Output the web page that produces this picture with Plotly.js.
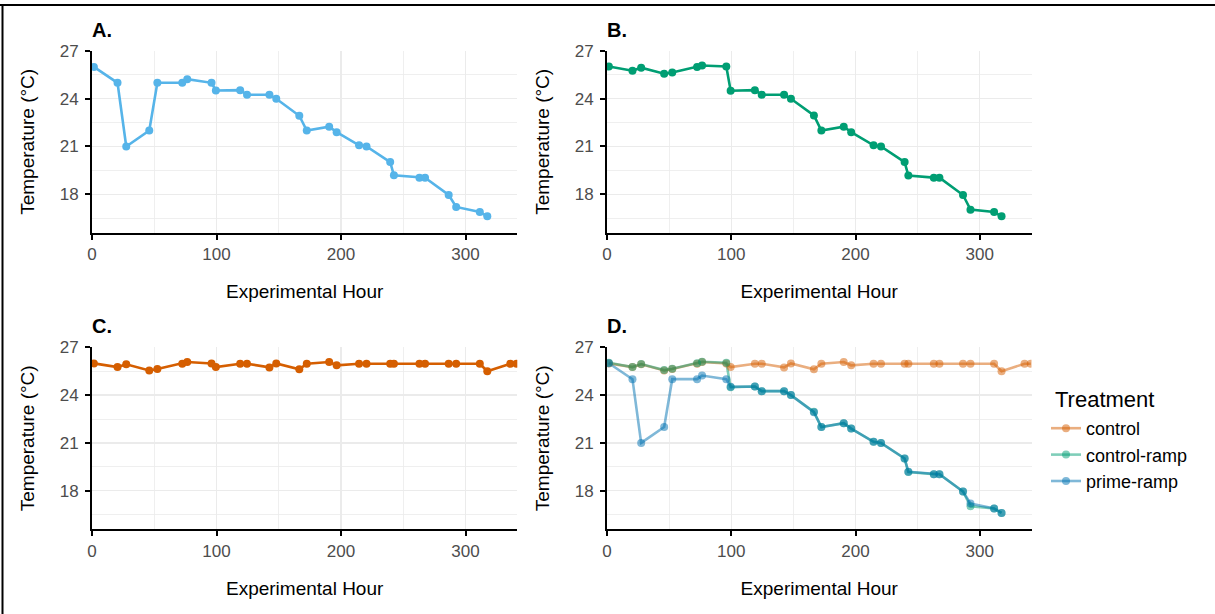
<!DOCTYPE html>
<html>
<head>
<meta charset="utf-8">
<script src="https://cdn.plot.ly/plotly-3.0.1.min.js"></script>
<style>
  html, body { margin: 0; padding: 0; background: #ffffff; }
  #chart { width: 1215px; height: 614px; }
</style>
</head>
<body>
<div id="chart"></div>
<script>
// ---------------- data ----------------
const rampHours = [1.5, 20.5, 27.5, 46, 52.5, 72.5, 76.5, 96, 99.5, 119, 124.5, 142.5, 148,
  166.5, 172.5, 190.5, 196.5, 214.5, 220.5, 239.5, 242.5, 263, 267.5, 286.5, 292.5, 311.5, 317.5];
const controlHours = [1.5, 20.5, 27.5, 46, 52.5, 72.5, 76.5, 96, 99.5, 119, 124.5, 142.5, 148,
  166.5, 172.5, 190.5, 196.5, 214.5, 220.5, 239.5, 242.5, 263, 267.5, 286.5, 292.5, 311.5, 317.5, 336, 341];

const primeRampTemp = [26.0, 25.0, 21.0, 22.0, 25.0, 25.0, 25.23, 25.0, 24.52, 24.54, 24.25, 24.25, 24.0,
  22.93, 22.0, 22.24, 21.9, 21.07, 21.0, 20.02, 19.19, 19.04, 19.04, 17.95, 17.2, 16.88, 16.61];
const controlRampTemp = [26.03, 25.76, 25.95, 25.57, 25.65, 26.0, 26.09, 26.03, 24.5, 24.54, 24.25, 24.25, 24.0,
  22.95, 22.0, 22.24, 21.9, 21.07, 21.0, 20.02, 19.17, 19.04, 19.04, 17.95, 17.03, 16.88, 16.61];
const controlTemp = [25.99, 25.76, 25.93, 25.55, 25.64, 25.97, 26.08, 25.99, 25.76, 25.97, 25.97, 25.74, 25.99,
  25.62, 25.97, 26.08, 25.87, 25.97, 25.97, 25.97, 25.97, 25.97, 25.97, 25.97, 25.97, 25.97, 25.5, 25.97, 25.97];

const treatments = ['control', 'control-ramp', 'prime-ramp'];
const panelLabels = ['A.', 'B.', 'C.', 'D.'];
const xTickVals = [0, 100, 200, 300];
const yTickVals = [18, 21, 24, 27];
const xTitle = 'Experimental Hour';
const yTitle = 'Temperature (°C)';
const legendTitle = 'Treatment';

// ---------------- styling ----------------
const FONT = 'Liberation Sans, Arial, Helvetica, sans-serif';
// single-treatment panels
const panelColors = { 'control': [213, 94, 0], 'control-ramp': [0, 158, 115], 'prime-ramp': [86, 180, 233] };
// combined panel D
const combinedColors = { 'control': [213, 94, 0], 'control-ramp': [0, 158, 115], 'prime-ramp': [0, 114, 178] };
const rgb = c => `rgb(${c[0]},${c[1]},${c[2]})`;
const rgba = (c, a) => `rgba(${c[0]},${c[1]},${c[2]},${a})`;
const LW = 2.6, MS = 8, ALPHA = 0.5;

const W = 1215, H = 614;
const px2x = p => p / W;
const px2y = p => 1 - p / H;

// panel geometry in pixels
const colX = [[92, 517.3], [607, 1031.5]];
const rowY = [[51, 232.7], [347.3, 529.3]];

const seriesX = { 'control': controlHours, 'control-ramp': rampHours, 'prime-ramp': rampHours };
const seriesY = { 'control': controlTemp, 'control-ramp': controlRampTemp, 'prime-ramp': primeRampTemp };

const traces = [];
function solid(name, ax) {
  traces.push({
    type: 'scatter', mode: 'lines+markers', name: name,
    x: seriesX[name], y: seriesY[name],
    xaxis: 'x' + ax, yaxis: 'y' + ax,
    line: { color: rgb(panelColors[name]), width: LW },
    marker: { color: rgb(panelColors[name]), size: MS },
    showlegend: false, hoverinfo: 'x+y'
  });
}
solid('prime-ramp', '');
solid('control-ramp', '2');
solid('control', '3');

// panel D: lines first, then points, semi-transparent (ggplot layering)
treatments.forEach(name => {
  traces.push({
    type: 'scatter', mode: 'lines', name: name,
    x: seriesX[name], y: seriesY[name], xaxis: 'x4', yaxis: 'y4',
    line: { color: rgba(combinedColors[name], ALPHA), width: LW },
    showlegend: false, hoverinfo: 'skip'
  });
});
treatments.forEach(name => {
  traces.push({
    type: 'scatter', mode: 'markers', name: name,
    x: seriesX[name], y: seriesY[name], xaxis: 'x4', yaxis: 'y4',
    marker: { color: rgba(combinedColors[name], ALPHA), size: MS },
    showlegend: false, hoverinfo: 'x+y+name'
  });
});
// legend entries
treatments.forEach(name => {
  traces.push({
    type: 'scatter', mode: 'lines+markers', name: name,
    x: [null], y: [null], xaxis: 'x4', yaxis: 'y4',
    line: { color: rgba(combinedColors[name], ALPHA), width: LW },
    marker: { color: rgba(combinedColors[name], ALPHA), size: MS },
    showlegend: true, hoverinfo: 'skip'
  });
});

function xaxis(col, anchor) {
  return {
    domain: [px2x(colX[col][0]), px2x(colX[col][1])], anchor: anchor,
    range: [0, 341.6], tickmode: 'array', tickvals: xTickVals,
    showline: true, linecolor: '#000000', linewidth: 2,
    ticks: 'outside', ticklen: 5, tickwidth: 2, tickcolor: '#000000',
    tickfont: { family: FONT, size: 17, color: '#4D4D4D' },
    showgrid: true, gridcolor: '#EBEBEB', gridwidth: 1.4,
    minor: { tickmode: 'linear', tick0: 50, dtick: 100, showgrid: true, gridcolor: '#EBEBEB', gridwidth: 0.8, ticks: '' },
    zeroline: false, automargin: false, fixedrange: true,
    title: { text: xTitle, font: { family: FONT, size: 19, color: '#000000' }, standoff: 22 }
  };
}
function yaxis(row, anchor) {
  return {
    domain: [px2y(rowY[row][1]), px2y(rowY[row][0])], anchor: anchor,
    range: [15.58, 27.0], tickmode: 'array', tickvals: yTickVals,
    showline: true, linecolor: '#000000', linewidth: 2,
    ticks: 'outside', ticklen: 5, tickwidth: 2, tickcolor: '#000000',
    ticklabelstandoff: 3,
    tickfont: { family: FONT, size: 17, color: '#4D4D4D' },
    showgrid: true, gridcolor: '#EBEBEB', gridwidth: 1.4,
    minor: { tickmode: 'linear', tick0: 16.5, dtick: 3, showgrid: true, gridcolor: '#EBEBEB', gridwidth: 0.8, ticks: '' },
    zeroline: false, automargin: false, fixedrange: true,
    title: { text: yTitle, font: { family: FONT, size: 19, color: '#000000' }, standoff: 20 }
  };
}

const annotations = panelLabels.map((lab, i) => {
  const col = i % 2, row = Math.floor(i / 2);
  return {
    text: '<b>' + lab + '</b>', xref: 'paper', yref: 'paper',
    x: px2x(colX[col][0] - 2), y: px2y(rowY[row][0] - 21),
    xanchor: 'left', yanchor: 'middle', showarrow: false,
    font: { family: FONT, size: 20, color: '#000000' }
  };
});
annotations.push({
  text: legendTitle, xref: 'paper', yref: 'paper',
  x: px2x(1053), y: px2y(399), xanchor: 'left', yanchor: 'middle', showarrow: false,
  font: { family: FONT, size: 22, color: '#000000' }
});

const layout = {
  width: W, height: H,
  margin: { l: 0, r: 0, t: 0, b: 0, pad: 0 },
  paper_bgcolor: '#ffffff', plot_bgcolor: '#ffffff',
  font: { family: FONT, color: '#000000' },
  xaxis: xaxis(0, 'y'), yaxis: yaxis(0, 'x'),
  xaxis2: xaxis(1, 'y2'), yaxis2: yaxis(0, 'x2'),
  xaxis3: xaxis(0, 'y3'), yaxis3: yaxis(1, 'x3'),
  xaxis4: xaxis(1, 'y4'), yaxis4: yaxis(1, 'x4'),
  annotations: annotations,
  showlegend: true,
  legend: {
    x: px2x(1046), y: px2y(410), xanchor: 'left', yanchor: 'top',
    bgcolor: 'rgba(0,0,0,0)', borderwidth: 0,
    font: { family: FONT, size: 18, color: '#000000' },
    tracegroupgap: 0
  },
  shapes: [
    { type: 'line', xref: 'paper', yref: 'paper', x0: 0, x1: 1, y0: px2y(5), y1: px2y(5), line: { color: '#000000', width: 2 } },
    { type: 'line', xref: 'paper', yref: 'paper', x0: px2x(2.5), x1: px2x(2.5), y0: px2y(4), y1: 0, line: { color: '#000000', width: 2 } }
  ]
};

Plotly.newPlot('chart', traces, layout, { staticPlot: true, displayModeBar: false });
</script>
</body>
</html>
